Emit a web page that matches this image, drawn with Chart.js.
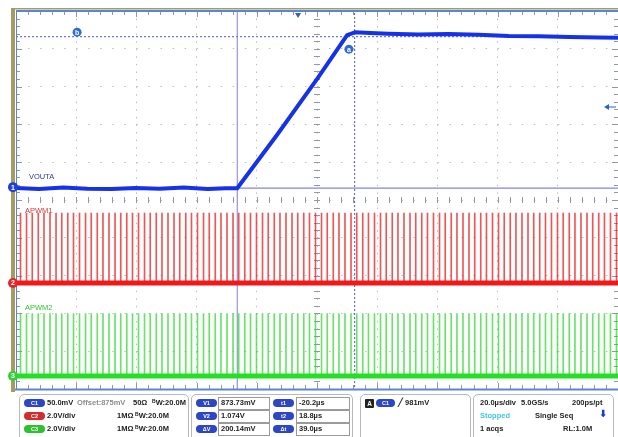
<!DOCTYPE html>
<html lang="en">
<head>
<meta charset="UTF-8">
<title>VOUTA start-up with APWM1 / APWM2</title>
<script src="https://cdn.jsdelivr.net/npm/chart.js"></script>
<style>
  body { margin: 0; background: #fff; font-family: "Liberation Sans", Arial, sans-serif; }
  #wrap { position: relative; width: 618px; height: 437px; overflow: hidden; }
  canvas { position: absolute; left: 0; top: 0; }
  .lbl { position: absolute; font-size: 7.5px; line-height: 9px; }
  .box { position: absolute; top: 394px; height: 50px; border: 1px solid #b8b8b8; border-radius: 5px; box-sizing: border-box; }
  .t { position: absolute; font-size: 7.5px; font-weight: bold; color: #222; white-space: nowrap; line-height: 10px; }
  .t .b { font-size: 5px; position: relative; top: -2px; }
  .pill { position: absolute; width: 21px; height: 8px; border-radius: 4px; color: #fff; font-size: 5.5px; font-weight: bold; text-align: center; line-height: 8px; }
  .val { position: absolute; height: 13px; border: 1px solid #9a9a9a; box-sizing: border-box; background: #fff; }
  .c1 { background: #2c46c4; } .c2 { background: #d22c2c; } .c3 { background: #2fbf2f; }
</style>
</head>
<body>
<div id="wrap">
  <canvas id="scope" width="618" height="437"></canvas>

  <span class="lbl" style="left:29px;top:172px;color:#2b3aa6">VOUTA</span>
  <span class="lbl" style="left:25px;top:206px;color:#d23a3a">APWM1</span>
  <span class="lbl" style="left:25px;top:303px;color:#33c833">APWM2</span>

  <div class="box" style="left:19px;width:170px"></div>
  <div class="pill c1" style="left:24px;top:399px">C1</div>
  <span class="t" style="left:47px;top:398px">50.0mV</span>
  <span class="t" style="left:77px;top:398px;color:#8c8c8c">Offset:875mV</span>
  <span class="t" style="left:133px;top:398px">50Ω</span>
  <span class="t" style="left:152px;top:398px"><span class="b">B</span>W:20.0M</span>
  <div class="pill c2" style="left:24px;top:412px">C2</div>
  <span class="t" style="left:47px;top:411px">2.0V/div</span>
  <span class="t" style="left:117px;top:411px">1MΩ</span>
  <span class="t" style="left:135px;top:411px"><span class="b">B</span>W:20.0M</span>
  <div class="pill c3" style="left:24px;top:425px">C3</div>
  <span class="t" style="left:47px;top:424px">2.0V/div</span>
  <span class="t" style="left:117px;top:424px">1MΩ</span>
  <span class="t" style="left:135px;top:424px"><span class="b">B</span>W:20.0M</span>

  <div class="box" style="left:191px;width:162px"></div>
  <div class="pill c1" style="left:196px;top:399px">V1</div>
  <div class="val" style="left:218px;top:397px;width:52px"></div>
  <span class="t" style="left:221px;top:398px">873.73mV</span>
  <div class="pill c1" style="left:196px;top:412px">V2</div>
  <div class="val" style="left:218px;top:410px;width:52px"></div>
  <span class="t" style="left:221px;top:411px">1.074V</span>
  <div class="pill c1" style="left:196px;top:425px">ΔV</div>
  <div class="val" style="left:218px;top:423px;width:52px"></div>
  <span class="t" style="left:221px;top:424px">200.14mV</span>
  <div class="pill c1" style="left:273px;top:399px">t1</div>
  <div class="val" style="left:296px;top:397px;width:54px"></div>
  <span class="t" style="left:299px;top:398px">-20.2µs</span>
  <div class="pill c1" style="left:273px;top:412px">t2</div>
  <div class="val" style="left:296px;top:410px;width:54px"></div>
  <span class="t" style="left:299px;top:411px">18.8µs</span>
  <div class="pill c1" style="left:273px;top:425px">Δt</div>
  <div class="val" style="left:296px;top:423px;width:54px"></div>
  <span class="t" style="left:299px;top:424px">39.0µs</span>

  <div class="box" style="left:360px;width:111px"></div>
  <div class="pill" style="left:365px;top:399px;width:9px;height:9px;border-radius:1px;background:#222;line-height:9px;font-size:6.5px">A</div>
  <div class="pill c1" style="left:376px;top:399px;width:19px">C1</div>
  <span class="t" style="left:398px;top:398px">╱ 981mV</span>

  <div class="box" style="left:473px;width:141px"></div>
  <span class="t" style="left:480px;top:398px">20.0µs/div</span>
  <span class="t" style="left:521px;top:398px">5.0GS/s</span>
  <span class="t" style="left:572px;top:398px">200ps/pt</span>
  <span class="t" style="left:480px;top:411px;color:#3ec6ea">Stopped</span>
  <span class="t" style="left:535px;top:411px">Single Seq</span>
  <span class="t" style="left:599px;top:409px;color:#1c3cc8;font-family:'DejaVu Sans';font-size:10px">⬇</span>
  <span class="t" style="left:480px;top:424px">1 acqs</span>
  <span class="t" style="left:563px;top:424px">RL:1.0M</span>
</div>

<script>
// time base: 20 us/div, trigger (t = 0) sits a bit left of centre
const tStart = -93.7;
const tEnd = 106.3;

// C1 VOUTA (mV) - flat, linear ramp, then settles near 1.074 V
const voutaTime = [-93.7, -86, -78, -70, -62, -54, -46, -38, -30, -24, -20.2, -7, 6.3, 16.3, 19, 24, 30, 40, 50, 60, 70, 80, 90, 100, 106.3];
const voutaMv   = [874, 872.5, 874.5, 873, 872.5, 874, 873, 874.5, 872.5, 873.5, 873.5, 944, 1018, 1076, 1080, 1079, 1078, 1077, 1077.5, 1076.5, 1075, 1074.5, 1073.5, 1073, 1072.5];

// APWM1 / APWM2 narrow gate pulses (us), roughly 2 us apart
const pulseTimes = [
  -92.2, -90.2, -88.3, -86.3, -84.4, -82.4, -80.4, -78.5, -76.5, -74.6,
  -72.6, -70.6, -68.7, -66.7, -64.8, -62.8, -60.8, -58.9, -56.9, -55.0,
  -53.0, -51.0, -49.1, -47.1, -45.2, -43.2, -41.2, -39.3, -37.3, -35.4,
  -33.4, -31.4, -29.5, -27.5, -25.6, -23.6, -21.6, -19.7, -17.7, -15.8,
  -13.8, -11.8, -9.9, -7.9, -6.0, -4.0, -2.0, -0.1, 1.9, 3.8,
  5.8, 7.8, 9.7, 11.7, 13.6, 15.6, 17.6, 19.5, 21.5, 23.4,
  25.4, 27.4, 29.3, 31.3, 33.2, 35.2, 37.2, 39.1, 41.1, 43.0,
  45.0, 47.0, 48.9, 50.9, 52.8, 54.8, 56.8, 58.7, 60.7, 62.6,
  64.6, 66.6, 68.5, 70.5, 72.4, 74.4, 76.4, 78.3, 80.3, 82.2,
  84.2, 86.2, 88.1, 90.1, 92.0, 94.0, 96.0, 97.9, 99.9, 101.8,
  103.8, 105.8
];
const apwm1High = 3.7;   // V
const apwm2High = 3.3;   // V

// cursors and trigger
const cursorT = [-20.2, 18.8];       // us
const cursorV = [873.73, 1074];      // mV
const trigLevel = 981;               // mV
const c1Offset = 875;                // mV

const xy = (xs, ys) => xs.map((x, i) => ({ x: x, y: ys[i] }));

const scopeDecor = {
  id: 'scopeDecor',
  beforeDatasetsDraw(chart) {
    const { ctx, chartArea: a, scales } = chart;
    const gx = scales.gx, gy = scales.gy;
    const cx = gx.getPixelForValue(5), cy = gy.getPixelForValue(5);
    ctx.save();
    ctx.strokeStyle = '#9297ab';
    ctx.lineWidth = 1;
    ctx.beginPath();
    for (let k = 1; k < 50; k++) {
      const px = Math.round(gx.getPixelForValue(k / 5)) + 0.5;
      const len = k % 5 === 0 ? 6 : 4;
      ctx.moveTo(px, a.top); ctx.lineTo(px, a.top + len);
      ctx.moveTo(px, a.bottom); ctx.lineTo(px, a.bottom - len);
      ctx.moveTo(px, cy - 3); ctx.lineTo(px, cy + 3);
    }
    for (let k = 1; k < 50; k++) {
      const py = Math.round(gy.getPixelForValue(k / 5)) + 0.5;
      const len = k % 5 === 0 ? 6 : 4;
      ctx.moveTo(a.left, py); ctx.lineTo(a.left + len, py);
      ctx.moveTo(a.right, py); ctx.lineTo(a.right - len, py);
      ctx.moveTo(cx - 3, py); ctx.lineTo(cx + 3, py);
    }
    ctx.stroke();
    ctx.restore();
  },
  afterDatasetsDraw(chart) {
    const { ctx, chartArea: a, scales } = chart;
    ctx.save();
    // frame
    ctx.fillStyle = '#a59c64';
    ctx.fillRect(a.left - 5, a.top - 3, 4, a.bottom - a.top + 6);
    ctx.fillRect(a.left - 5, a.top - 3, a.right - a.left + 5, 1.5);
    ctx.strokeStyle = '#5a86d8';
    ctx.lineWidth = 2;
    ctx.beginPath();
    ctx.moveTo(a.left, a.top); ctx.lineTo(a.right, a.top);
    ctx.moveTo(a.left - 1, a.bottom + 0.5); ctx.lineTo(a.right, a.bottom + 0.5);
    ctx.stroke();
    ctx.lineWidth = 1;
    ctx.beginPath();
    ctx.moveTo(a.left + 0.5, a.top); ctx.lineTo(a.left + 0.5, a.bottom);
    ctx.stroke();

    const circle = (x, y, r, fill, txt) => {
      ctx.beginPath();
      ctx.arc(x, y, r, 0, Math.PI * 2);
      ctx.fillStyle = fill;
      ctx.fill();
      ctx.fillStyle = '#fff';
      ctx.font = 'bold 7px "Liberation Sans", Arial';
      ctx.textAlign = 'center';
      ctx.textBaseline = 'middle';
      ctx.fillText(txt, x, y + 0.5);
    };
    // channel ground markers
    circle(a.left - 3, scales.y1.getPixelForValue(c1Offset), 5, '#2040d4', '1');
    circle(a.left - 3, scales.y2.getPixelForValue(0), 5, '#e02a2a', '2');
    circle(a.left - 3, scales.y3.getPixelForValue(0), 5, '#35d035', '3');
    // cursor tags
    circle(scales.x.getPixelForValue(-73.4), scales.y1.getPixelForValue(1080), 4.5, '#2f6cd0', 'b');
    circle(scales.x.getPixelForValue(16.9), scales.y1.getPixelForValue(1057.5), 4.5, '#2f6cd0', 'a');

    // trigger position and level markers
    const tx = scales.x.getPixelForValue(0);
    ctx.fillStyle = '#2f5fd4';
    ctx.beginPath();
    ctx.moveTo(tx - 3, a.top + 2); ctx.lineTo(tx + 3, a.top + 2); ctx.lineTo(tx, a.top + 7);
    ctx.closePath(); ctx.fill();
    const ty = scales.y1.getPixelForValue(trigLevel);
    ctx.beginPath();
    ctx.moveTo(a.right - 14, ty); ctx.lineTo(a.right - 9, ty - 3); ctx.lineTo(a.right - 9, ty + 3);
    ctx.closePath(); ctx.fill();
    ctx.fillRect(a.right - 10, ty - 0.5, 8, 1);
    ctx.restore();
  }
};

const line = (data, axis, color, width, extra) => Object.assign({
  type: 'line', data: data, yAxisID: axis, borderColor: color, borderWidth: width,
  pointRadius: 0, tension: 0, fill: false
}, extra || {});

new Chart(document.getElementById('scope'), {
  type: 'line',
  data: {
    datasets: [
      line(xy(voutaTime, voutaMv), 'y1', '#1632e6', 4, { order: 1 }),
      {
        type: 'bar', yAxisID: 'y2', order: 3,
        data: pulseTimes.map(t => ({ x: t, y: apwm1High })),
        backgroundColor: 'rgba(232,30,30,0.75)', barThickness: 1, grouped: false
      },
      line(xy([tStart, tEnd], [0, 0]), 'y2', '#f01818', 5, { order: 2 }),
      {
        type: 'bar', yAxisID: 'y3', order: 3,
        data: pulseTimes.map(t => ({ x: t, y: apwm2High })),
        backgroundColor: 'rgba(40,215,40,0.7)', barThickness: 1, grouped: false
      },
      line(xy([tStart, tEnd], [0, 0]), 'y3', '#22e022', 5, { order: 2 }),
      // cursors
      line(xy([cursorT[0], cursorT[0]], [600, 1120]), 'y1', '#7c80d4', 1, { order: 5 }),
      line(xy([cursorT[1], cursorT[1]], [600, 1120]), 'y1', '#5458b4', 1, { order: 5, borderDash: [2, 2] }),
      line(xy([tStart, tEnd], [cursorV[0], cursorV[0]]), 'y1', '#5e68e0', 1, { order: 5 }),
      line(xy([tStart, tEnd], [cursorV[1], cursorV[1]]), 'y1', '#5458c8', 1, { order: 5, borderDash: [2, 2] })
    ]
  },
  options: {
    responsive: false,
    animation: false,
    layout: { padding: { left: 16, top: 11, right: 0, bottom: 48 } },
    plugins: { legend: { display: false }, tooltip: { enabled: false } },
    scales: {
      x: { type: 'linear', min: tStart, max: tEnd, offset: false, display: false, grid: { offset: false } },
      y1: { type: 'linear', min: 608, max: 1108, display: false },
      y2: { type: 'linear', min: -5.61, max: 14.39, display: false },
      y3: { type: 'linear', min: -0.69, max: 19.31, display: false },
      gx: {
        type: 'linear', axis: 'x', position: 'bottom', min: 0, max: 10,
        ticks: { stepSize: 1, display: false },
        grid: { drawTicks: false, color: c => (c.tick.value === 0 || c.tick.value === 10) ? 'rgba(0,0,0,0)' : '#bdbdbd' },
        border: { display: false, dash: [1.5, 6.06] }
      },
      gy: {
        type: 'linear', axis: 'y', position: 'left', min: 0, max: 10,
        ticks: { stepSize: 1, display: false },
        grid: { drawTicks: false, color: c => (c.tick.value === 0 || c.tick.value === 10) ? 'rgba(0,0,0,0)' : '#bdbdbd' },
        border: { display: false, dash: [1.5, 10.54] }
      }
    }
  },
  plugins: [scopeDecor]
});
</script>
</body>
</html>
